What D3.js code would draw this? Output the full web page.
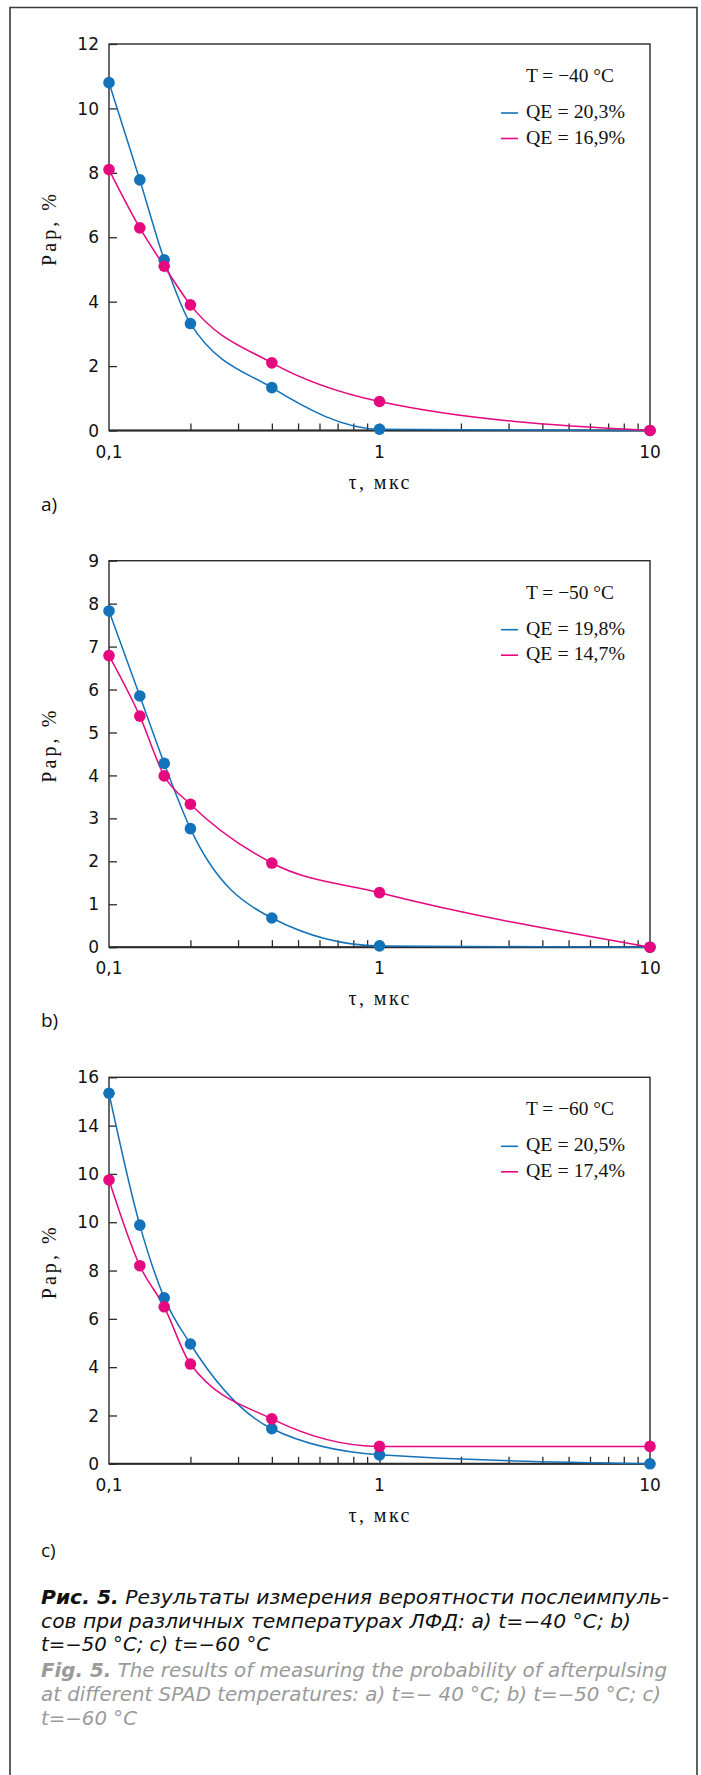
<!DOCTYPE html>
<html>
<head>
<meta charset="utf-8">
<script src="https://cdn.jsdelivr.net/npm/d3@7"></script>
<style>
  html, body { margin: 0; padding: 0; background: #fff; }
  svg { display: block; }
</style>
</head>
<body>
<svg id="chart" width="701" height="1775"></svg>
<script>
// ---------- DATA ----------
const tauValues = [0.1, 0.13, 0.16, 0.2, 0.4, 1, 10];

const blueA = [10.8, 7.78, 5.3, 3.32, 1.33, 0.04, 0];
const pinkA = [8.1, 6.29, 5.1, 3.9, 2.1, 0.9, 0];

const blueB = [7.83, 5.85, 4.28, 2.76, 0.68, 0.03, 0];
const pinkB = [6.79, 5.38, 3.99, 3.33, 1.96, 1.27, 0];

const blueC = [15.34, 9.88, 6.87, 4.96, 1.45, 0.37, 0];
const pinkC = [11.75, 8.2, 6.5, 4.13, 1.86, 0.72, 0.72];

const yTicksA = [0, 2, 4, 6, 8, 10, 12];
const yLabelsA = ["0", "2", "4", "6", "8", "10", "12"];
const yTicksB = [0, 1, 2, 3, 4, 5, 6, 7, 8, 9];
const yLabelsB = ["0", "1", "2", "3", "4", "5", "6", "7", "8", "9"];
const yTicksC = [0, 2, 4, 6, 8, 10, 12, 14, 16];
const yLabelsC = ["0", "2", "4", "6", "8", "10", "10", "14", "16"];

const xTickValues = [0.1, 1, 10];
const xTickLabels = ["0,1", "1", "10"];
const xMinorTicks = [0.2, 0.3, 0.4, 0.5, 0.6, 0.7, 0.8, 0.9, 1, 2, 3, 4, 5, 6, 7, 8, 9];

const tempLabels = ["T = \u221240 \u00B0C", "T = \u221250 \u00B0C", "T = \u221260 \u00B0C"];
const blueLegend = ["QE = 20,3%", "QE = 19,8%", "QE = 20,5%"];
const pinkLegend = ["QE = 16,9%", "QE = 14,7%", "QE = 17,4%"];
const panelLabels = ["a)", "b)", "c)"];

const yAxisTitle = "Pap, %";
const xAxisTitle = "\u03C4, \u043C\u043A\u0441";

const captionRu = [
  {bold: "Рис. 5.", text: " Результаты измерения вероятности послеимпуль-"},
  {bold: "", text: "сов при различных температурах ЛФД: a) t=\u221240 \u00B0C; b)"},
  {bold: "", text: "t=\u221250 \u00B0C; c) t=\u221260 \u00B0C"}
];
const captionEn = [
  {bold: "Fig. 5.", text: " The results of measuring the probability of afterpulsing"},
  {bold: "", text: "at different SPAD temperatures: a) t=\u2212 40 \u00B0C; b) t=\u221250 \u00B0C; c)"},
  {bold: "", text: "t=\u221260 \u00B0C"}
];

// ---------- STYLE / LAYOUT ----------
const BLUE = "#1372b9";
const PINK = "#e5087f";
const AXIS = "#2a2a2a";
const plotLeft = 109, plotRight = 650, plotH = 386.5;
const panelTops = [44, 560.7, 1077.3];
const panelLabelOffsets = [80, 80, 93];

const svg = d3.select("#chart");

// outer frame (open at bottom)
svg.append("path")
  .attr("d", "M10,1780 L10,7.5 L697,7.5 L697,1780")
  .attr("fill", "none").attr("stroke", "#3a3a3a").attr("stroke-width", 1.6);

const x = d3.scaleLog().domain([0.1, 10]).range([plotLeft, plotRight]);

function drawPanel(i, yMax, yTicks, yLabels, blue, pink) {
  const top = panelTops[i];
  const bottom = top + plotH;
  const y = d3.scaleLinear().domain([0, yMax]).range([bottom, top]);
  const g = svg.append("g");

  // y ticks (inward)
  const yAxis = d3.axisRight(y).tickValues(yTicks).tickSize(8).tickFormat("");
  const ya = g.append("g").attr("transform", `translate(${plotLeft},0)`).call(yAxis);
  ya.select(".domain").remove();
  ya.selectAll("line").attr("stroke", AXIS).attr("stroke-width", 1.3);

  // y tick labels
  g.selectAll(".ylab").data(yTicks).enter().append("text")
    .attr("x", plotLeft - 10).attr("y", d => y(d)).attr("dy", "0.36em")
    .attr("text-anchor", "end")
    .attr("font-family", "DejaVu Sans, sans-serif").attr("font-size", 17)
    .attr("fill", "#111")
    .text((d, k) => yLabels[k]);

  // x minor ticks (inward)
  const xAxis = d3.axisTop(x).tickValues(xMinorTicks).tickSize(7).tickFormat("");
  const xa = g.append("g").attr("transform", `translate(0,${bottom})`).call(xAxis);
  xa.select(".domain").remove();
  xa.selectAll("line").attr("stroke", AXIS).attr("stroke-width", 1.3);

  // x tick labels
  g.selectAll(".xlab").data(xTickValues).enter().append("text")
    .attr("x", d => x(d)).attr("y", bottom + 27)
    .attr("text-anchor", "middle")
    .attr("font-family", "DejaVu Sans, sans-serif").attr("font-size", 17)
    .attr("fill", "#111")
    .text((d, k) => xTickLabels[k]);

  // plot box
  g.append("rect")
    .attr("x", plotLeft).attr("y", top)
    .attr("width", plotRight - plotLeft).attr("height", plotH)
    .attr("fill", "none").attr("stroke", AXIS).attr("stroke-width", 1.4);
  g.append("line")
    .attr("x1", plotLeft).attr("x2", plotRight).attr("y1", bottom).attr("y2", bottom)
    .attr("stroke", AXIS).attr("stroke-width", 2);

  // curves
  const line = d3.line().curve(d3.curveMonotoneX)
    .x((d, k) => x(tauValues[k])).y(d => y(d));
  g.append("path").attr("d", line(blue)).attr("fill", "none")
    .attr("stroke", BLUE).attr("stroke-width", 1.5);
  g.append("path").attr("d", line(pink)).attr("fill", "none")
    .attr("stroke", PINK).attr("stroke-width", 1.5);

  // markers
  g.selectAll(".bdot").data(blue).enter().append("circle")
    .attr("cx", (d, k) => x(tauValues[k])).attr("cy", d => y(d))
    .attr("r", 5.8).attr("fill", BLUE);
  g.selectAll(".pdot").data(pink).enter().append("circle")
    .attr("cx", (d, k) => x(tauValues[k])).attr("cy", d => y(d))
    .attr("r", 5.8).attr("fill", PINK);

  // legend
  const serif = "Liberation Serif, Times New Roman, serif";
  g.append("text").attr("x", 526).attr("y", top + 38)
    .attr("font-family", serif).attr("font-size", 19.5).attr("fill", "#111")
    .attr("textLength", 88).attr("lengthAdjust", "spacingAndGlyphs")
    .text(tempLabels[i]);
  const legendItems = [[BLUE, blueLegend[i], 69], [PINK, pinkLegend[i], 94.5]];
  legendItems.forEach(([c, t, dy]) => {
    g.append("line").attr("x1", 501).attr("x2", 518)
      .attr("y1", top + dy).attr("y2", top + dy)
      .attr("stroke", c).attr("stroke-width", 1.6);
    g.append("text").attr("x", 526).attr("y", top + dy + 5)
      .attr("font-family", serif).attr("font-size", 19.5).attr("fill", "#111")
      .attr("textLength", 99).attr("lengthAdjust", "spacingAndGlyphs")
      .text(t);
  });

  // axis titles
  g.append("text")
    .attr("transform", `translate(56,${top + 186}) rotate(-90)`)
    .attr("text-anchor", "middle")
    .attr("font-family", serif).attr("font-size", 20).attr("fill", "#111")
    .attr("textLength", 72).attr("lengthAdjust", "spacing")
    .text(yAxisTitle);
  g.append("text")
    .attr("x", 379).attr("y", bottom + 58)
    .attr("text-anchor", "middle")
    .attr("font-family", serif).attr("font-size", 20).attr("fill", "#111")
    .attr("textLength", 61).attr("lengthAdjust", "spacing")
    .text(xAxisTitle);

  // panel label
  g.append("text")
    .attr("x", 41).attr("y", bottom + panelLabelOffsets[i])
    .attr("font-family", "Open Sans, Noto Sans, sans-serif").attr("font-size", 19)
    .attr("fill", "#111")
    .text(panelLabels[i]);
}

drawPanel(0, 12, yTicksA, yLabelsA, blueA, pinkA);
drawPanel(1, 9, yTicksB, yLabelsB, blueB, pinkB);
drawPanel(2, 16, yTicksC, yLabelsC, blueC, pinkC);

// ---------- CAPTION ----------
const capBaselines = [1604, 1628, 1651, 1677, 1701, 1725];
const capWidthsRu = [628, 590, 229];
const capWidthsEn = [626, 620, 96];
function captionLine(item, yPos, width, color) {
  const t = svg.append("text")
    .attr("x", 41).attr("y", yPos)
    .attr("font-family", "DejaVu Sans, sans-serif")
    .attr("font-size", 19).attr("font-style", "italic").attr("fill", color)
    .attr("textLength", width).attr("lengthAdjust", "spacingAndGlyphs");
  if (item.bold) t.append("tspan").attr("font-weight", "bold").text(item.bold);
  t.append("tspan").text(item.text);
}
captionRu.forEach((item, k) => captionLine(item, capBaselines[k], capWidthsRu[k], "#111"));
captionEn.forEach((item, k) => captionLine(item, capBaselines[k + 3], capWidthsEn[k], "#9a9a9a"));
</script>
</body>
</html>
